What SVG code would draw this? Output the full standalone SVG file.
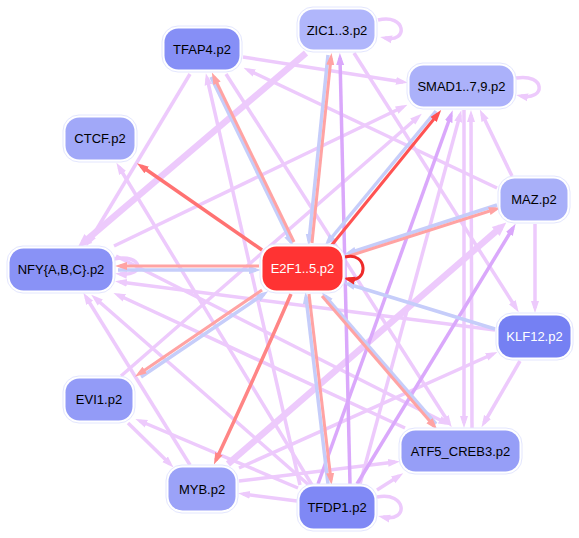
<svg xmlns="http://www.w3.org/2000/svg" width="579" height="538" viewBox="0 0 579 538">
<style>
.e{fill:none;stroke:#edcafc;stroke-width:3.5}
.et{fill:none;stroke:#edcafc;stroke-width:6.5}
.d{fill:none;stroke:#daa8fb;stroke-width:3.5}
.s{fill:none;stroke:#ffa3a3;stroke-width:3}
.b{fill:none;stroke:#c6cdfa;stroke-width:3.5}
.halo{fill:#ffffff;stroke:#e3e6fe;stroke-width:1}
.lbl{font-family:"Liberation Sans",Arial,sans-serif;font-size:13px;text-anchor:middle;dominant-baseline:central;fill:#000}
.w{fill:#ffffff}
</style>
<defs>
<marker id="mL" viewBox="0 0 12 10" refX="7" refY="5" markerWidth="12" markerHeight="10" markerUnits="userSpaceOnUse" orient="auto"><path d="M0,1 L12,5 L0,9 z" fill="#edcafc"/></marker>
<marker id="mLT" viewBox="0 0 14 14" refX="7" refY="7" markerWidth="14" markerHeight="14" markerUnits="userSpaceOnUse" orient="auto"><path d="M0,1 L14,7 L0,13 z" fill="#edcafc"/></marker>
<marker id="mD" viewBox="0 0 12 10" refX="7" refY="5" markerWidth="12" markerHeight="10" markerUnits="userSpaceOnUse" orient="auto"><path d="M0,1 L12,5 L0,9 z" fill="#daa8fb"/></marker>
<marker id="mS" viewBox="0 0 12 10" refX="7" refY="5" markerWidth="12" markerHeight="10" markerUnits="userSpaceOnUse" orient="auto"><path d="M0,1 L12,5 L0,9 z" fill="#ffa3a3"/></marker>
<marker id="mB" viewBox="0 0 12 10" refX="7" refY="5" markerWidth="12" markerHeight="10" markerUnits="userSpaceOnUse" orient="auto"><path d="M0,1 L12,5 L0,9 z" fill="#c6cdfa"/></marker>
<marker id="mR1" viewBox="0 0 12 10" refX="7" refY="5" markerWidth="12" markerHeight="10" markerUnits="userSpaceOnUse" orient="auto"><path d="M0,1 L12,5 L0,9 z" fill="#ff7272"/></marker>
<marker id="mR2" viewBox="0 0 12 10" refX="7" refY="5" markerWidth="12" markerHeight="10" markerUnits="userSpaceOnUse" orient="auto"><path d="M0,1 L12,5 L0,9 z" fill="#ff5252"/></marker>
<marker id="mR3" viewBox="0 0 12 10" refX="7" refY="5" markerWidth="12" markerHeight="10" markerUnits="userSpaceOnUse" orient="auto"><path d="M0,1 L12,5 L0,9 z" fill="#ff8585"/></marker>
<marker id="mE" viewBox="0 0 12 10" refX="7" refY="5" markerWidth="12" markerHeight="10" markerUnits="userSpaceOnUse" orient="auto"><path d="M0,1 L12,5 L0,9 z" fill="#ee2a2a"/></marker>
</defs>
<rect width="579" height="538" fill="#ffffff"/>
<g id="connectors">
<!-- lilac edges -->
<path class="e" marker-end="url(#mL)" d="M243,57 L403,82"/>
<path class="e" marker-end="url(#mL)" d="M497,188 L248,70"/>
<path class="e" marker-end="url(#mL)" d="M190,74 L89,242"/>
<path class="e" marker-end="url(#mL)" d="M300,485 L207,78"/>
<path class="e" marker-end="url(#mL)" d="M226,74 L449,423"/>
<path class="e" marker-end="url(#mL)" d="M354,53 L516,308"/>
<path class="e" marker-end="url(#mL)" d="M360,484 L460,115"/>
<path class="e" marker-end="url(#mL)" d="M464,110 L464,423"/>
<path class="e" marker-end="url(#mL)" d="M472,428 L471,115"/>
<path class="e" marker-end="url(#mL)" d="M512,176 L482,114"/>
<path class="e" marker-end="url(#mL)" d="M114,246 L403,107"/>
<path class="e" marker-end="url(#mL)" d="M121,376 L418,117"/>
<path class="e" marker-end="url(#mL)" d="M312,485 L119,167"/>
<path class="e" marker-end="url(#mL)" d="M495,330 L120,282"/>
<path class="e" marker-end="url(#mL)" d="M405,428 L118,295"/>
<path class="e" marker-end="url(#mL)" d="M190,465 L86,297"/>
<path class="e" marker-end="url(#mL)" d="M310,486 L95,298"/>
<path class="e" marker-end="url(#mL)" d="M298,488 L140,421"/>
<path class="e" marker-end="url(#mL)" d="M128,423 L170,464"/>
<path class="e" marker-end="url(#mL)" d="M297,501 L243,494"/>
<path class="e" marker-end="url(#mL)" d="M239,481 L395,462"/>
<path class="e" marker-end="url(#mL)" d="M377,490 L399,476"/>
<path class="e" marker-end="url(#mL)" d="M239,468 L493,354"/>
<path class="e" marker-end="url(#mL)" d="M520,361 L484,423"/>
<path class="e" marker-end="url(#mL)" d="M535,224 L535,308"/>
<path class="e" marker-end="url(#mL)" d="M116,256 L446,423"/>
<!-- thick lilac -->
<path class="et" marker-end="url(#mLT)" d="M306,53 L83,243"/>
<path class="et" marker-end="url(#mLT)" d="M228,464 L501,227"/>
<!-- dark purple -->
<path class="d" marker-end="url(#mD)" d="M350,484 L340,58"/>
<path class="d" marker-end="url(#mD)" d="M318,484 L451,115"/>
<path class="d" marker-end="url(#mD)" d="M357,484 L513,228"/>
<!-- self loops -->
<path class="e" marker-end="url(#mL)" d="M378,20 C406,13 409,43 385,38"/>
<path class="e" marker-end="url(#mL)" d="M516,78 C546,73 546,101 521,96"/>
<path class="e" marker-end="url(#mL)" d="M114,259 C143,253 146,277 120,274"/>
<path class="e" marker-end="url(#mL)" d="M377,497 C407,491 409,523 383,517"/>
<!-- E2F edges -->
<path fill="none" stroke="#ff7272" stroke-width="3.5" marker-end="url(#mR1)" d="M262,250 L141,166"/>
<path class="b" marker-end="url(#mB)" d="M436,111 L328,242"/>
<path fill="none" stroke="#ff5252" stroke-width="3" marker-end="url(#mR2)" d="M331,246 L438,114"/>
<path class="b" marker-end="url(#mB)" d="M211,77 L291,242"/>
<path class="s" marker-end="url(#mS)" d="M294,242 L214,77"/>
<path class="b" marker-end="url(#mB)" d="M328,55 L309,241"/>
<path class="s" marker-end="url(#mS)" d="M312,243 L331,58"/>
<path class="b" marker-end="url(#mB)" d="M497,205 L349,253"/>
<path class="s" marker-end="url(#mS)" d="M346,257 L496,209"/>
<path class="b" marker-end="url(#mB)" d="M118,270 L256,270"/>
<path class="s" marker-end="url(#mS)" d="M259,266 L120,266"/>
<path class="b" marker-end="url(#mB)" d="M495,329 L348,284"/>
<path class="b" marker-end="url(#mB)" d="M141,377 L264,294"/>
<path class="s" marker-end="url(#mS)" d="M262,290 L139,374"/>
<path fill="none" stroke="#ff8585" stroke-width="3.5" marker-end="url(#mR3)" d="M291,294 Q258,370 216,460"/>
<path class="b" marker-end="url(#mB)" d="M328,484 L306,297"/>
<path class="s" marker-end="url(#mS)" d="M309,294 L331,480"/>
<path class="b" marker-end="url(#mB)" d="M436,424 L325,296"/>
<path class="s" marker-end="url(#mS)" d="M322,296 L434,426"/>
<path fill="none" stroke="#ee2a2a" stroke-width="3" marker-end="url(#mE)" d="M345,257 C368,251 369,284 348,279"/>
</g>
<g id="node-ZIC1"><rect class="halo" x="297" y="7" width="80" height="45" rx="16"/><rect x="299.5" y="9.5" width="75" height="40" rx="14" fill="#b0b6fb"/><text class="lbl" x="337" y="30">ZIC1..3.p2</text></g>
<g id="node-TFAP4"><rect class="halo" x="162" y="26" width="80" height="46" rx="16"/><rect x="164.5" y="28.5" width="75" height="41" rx="14" fill="#868ff6"/><text class="lbl" x="202" y="49">TFAP4.p2</text></g>
<g id="node-SMAD"><rect class="halo" x="407" y="63" width="109" height="46" rx="16"/><rect x="409.5" y="65.5" width="104" height="41" rx="14" fill="#abb1fa"/><text class="lbl" x="461.5" y="86">SMAD1..7,9.p2</text></g>
<g id="node-CTCF"><rect class="halo" x="63" y="115" width="74" height="47" rx="16"/><rect x="65.5" y="117.5" width="69" height="42" rx="14" fill="#a1a8f8"/><text class="lbl" x="100" y="138.5">CTCF.p2</text></g>
<g id="node-NFY"><rect class="halo" x="7" y="246" width="108" height="47" rx="16"/><rect x="9.5" y="248.5" width="103" height="42" rx="14" fill="#8992f6"/><text class="lbl" x="61" y="269.5">NFY{A,B,C}.p2</text></g>
<g id="node-E2F"><rect class="halo" x="260" y="244" width="85" height="49" rx="16" stroke="#ffd6d6"/><rect x="262.5" y="246.5" width="80" height="44" rx="14" fill="#ff3333"/><text class="lbl w" x="302.5" y="268.5">E2F1..5.p2</text></g>
<g id="node-EVI1"><rect class="halo" x="63" y="376" width="72" height="47" rx="16"/><rect x="65.5" y="378.5" width="67" height="42" rx="14" fill="#939bf7"/><text class="lbl" x="99" y="399.5">EVI1.p2</text></g>
<g id="node-MYB"><rect class="halo" x="166" y="465" width="72" height="48" rx="16"/><rect x="168.5" y="467.5" width="67" height="43" rx="14" fill="#9ba2f8"/><text class="lbl" x="202" y="489">MYB.p2</text></g>
<g id="node-TFDP1"><rect class="halo" x="297" y="484" width="80" height="47" rx="16"/><rect x="299.5" y="486.5" width="75" height="42" rx="14" fill="#7f88f5"/><text class="lbl" x="337" y="507.5">TFDP1.p2</text></g>
<g id="node-ATF5"><rect class="halo" x="399" y="428" width="123" height="46" rx="16"/><rect x="401.5" y="430.5" width="118" height="41" rx="14" fill="#969ef7"/><text class="lbl" x="460.5" y="451">ATF5_CREB3.p2</text></g>
<g id="node-MAZ"><rect class="halo" x="498" y="176" width="72" height="47" rx="16"/><rect x="500.5" y="178.5" width="67" height="42" rx="14" fill="#a8aff9"/><text class="lbl" x="534" y="199.5">MAZ.p2</text></g>
<g id="node-KLF12"><rect class="halo" x="496" y="313" width="77" height="47" rx="16"/><rect x="498.5" y="315.5" width="72" height="42" rx="14" fill="#7580f3"/><text class="lbl w" x="534.5" y="336.5">KLF12.p2</text></g>
</svg>
